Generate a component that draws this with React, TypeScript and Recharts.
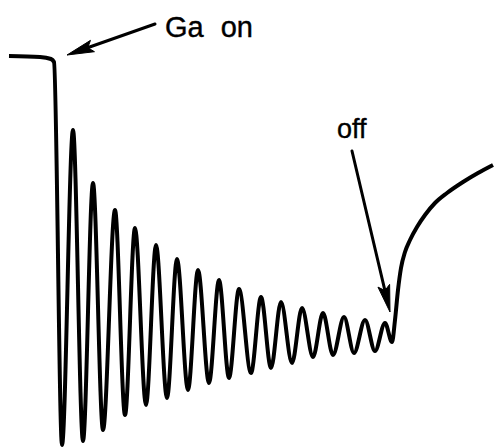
import React from "react";
import { LineChart, Line, XAxis, YAxis, ReferenceLine, ReferenceDot } from "recharts";

// RHEED specular-beam intensity during growth: time (s) and intensity (arb. units)
const timeS = [
  -2.25, -0.7, -0.15, 0, 0.4, 0.95, 1.45, 1.95, 2.45, 3.05, 3.55, 4.05, 4.6, 5.1, 5.65,
  6.15, 6.7, 7.2, 7.75, 8.25, 8.75, 9.25, 9.85, 10.35, 10.85, 11.35, 11.9, 12.4, 12.95,
  13.45, 13.95, 14.5, 15, 15.55, 16.05, 16.55, 16.9, 17.05, 17.2, 17.35, 17.55, 17.8,
  18.15, 18.55, 19.05, 19.65, 20.45, 21.2, 21.95,
];
const intensity = [
  97.75, 97.5, 97, 96.25, 0.5, 79.25, 1.5, 66, 4.25, 59.25, 8, 54.75, 10.5, 50.5, 12.25,
  47, 14.25, 44.25, 16, 41.75, 17.25, 39.5, 18.5, 37.5, 19.75, 36.25, 21, 34.75, 22.5,
  33.5, 23, 32.5, 23.5, 31.75, 24, 31, 26.25, 31.75, 39.25, 44.75, 48.75, 51.75,
  55, 58, 61, 63.5, 66.25, 68.5, 70.5,
];

// Annotation arrows: [tail, tip] in (time, intensity)
const gaOnArrow = [
  { x: 5.05, y: 105.75 },
  { x: 0.65, y: 98 },
];
const offArrow = [
  { x: 14.9, y: 74 },
  { x: 16.8, y: 33.75 },
];
const labels = [
  { text: "Ga on", t: 5.55, i: 102.5, size: 29 },
  { text: "off", t: 14.15, i: 77.25, size: 27 },
];

const data = timeS.map((t, k) => ({ t, i: intensity[k] }));

const ArrowShape = (props: any) => {
  const { x1, y1, x2, y2 } = props;
  const dx = x2 - x1;
  const dy = y2 - y1;
  const len = Math.sqrt(dx * dx + dy * dy) || 1;
  const ux = dx / len;
  const uy = dy / len;
  const headLen = 27;
  const halfW = 6;
  const bx = x2 - ux * headLen;
  const by = y2 - uy * headLen;
  const pts = [
    `${x2},${y2}`,
    `${bx - uy * halfW},${by + ux * halfW}`,
    `${bx + ux * 5},${by + uy * 5}`,
    `${bx + uy * halfW},${by - ux * halfW}`,
  ].join(" ");
  return (
    <g>
      <line x1={x1} y1={y1} x2={bx + ux * 6} y2={by + uy * 6} stroke="#000" strokeWidth={3} strokeLinecap="round" />
      <polygon points={pts} fill="#000" stroke="#000" strokeWidth={1} strokeLinejoin="round" />
    </g>
  );
};

const makeLabel = (text: string, size: number) => (props: any) => (
  <text
    x={props.cx}
    y={props.cy}
    fontFamily="'Liberation Sans', Arial, sans-serif"
    fontSize={size}
    wordSpacing={9}
    stroke="#000"
    strokeWidth={0.4}
    fill="#000"
  >
    {text}
  </text>
);

export default function App() {
  return (
    <div style={{ position: "absolute", left: 0, top: 0, width: 494, height: 447, background: "#fff" }}>
      <LineChart width={494} height={447} data={data} margin={{ top: 7, right: 0, left: 4, bottom: 0 }}>
        <XAxis type="number" dataKey="t" domain={[-2.5, 22]} hide allowDataOverflow />
        <YAxis type="number" domain={[0, 110]} hide allowDataOverflow />
        <Line
          type="monotoneX"
          dataKey="i"
          stroke="#000"
          strokeWidth={4}
          dot={false}
          activeDot={false}
          isAnimationActive={false}
          strokeLinejoin="round"
        />
        <ReferenceLine segment={gaOnArrow} shape={ArrowShape} ifOverflow="visible" />
        <ReferenceLine segment={offArrow} shape={ArrowShape} ifOverflow="visible" />
        {labels.map((l) => (
          <ReferenceDot
            key={l.text}
            x={l.t}
            y={l.i}
            r={0}
            ifOverflow="visible"
            shape={makeLabel(l.text, l.size)}
          />
        ))}
      </LineChart>
    </div>
  );
}
